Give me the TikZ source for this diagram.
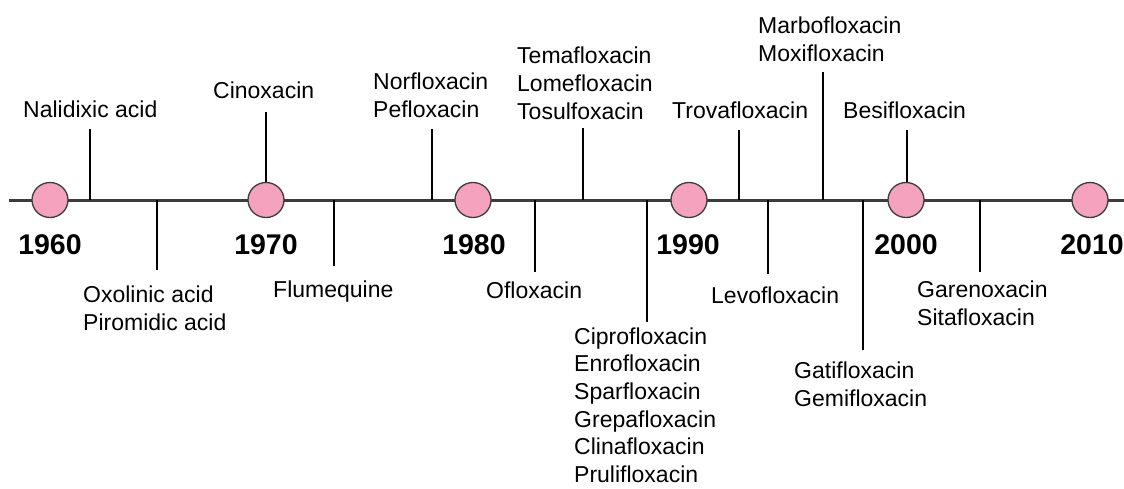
\documentclass[tikz,border=0pt]{standalone}
\usepackage{fontspec}
\setmainfont{Liberation Sans}
\usetikzlibrary{shapes.geometric}
\definecolor{pinkfill}{RGB}{245,162,190}
\definecolor{linegray}{RGB}{60,60,60}
\tikzset{
  yearball/.style={ellipse, draw=linegray, line width=1.3pt, fill=pinkfill, minimum width=36pt, minimum height=35pt, inner sep=0pt},
  yearlabel/.style={anchor=base, inner sep=0pt, font=\fontsize{28.5}{30}\selectfont\bfseries},
  druglabel/.style={anchor=north west, inner sep=0pt, align=left, font=\fontsize{23}{28}\selectfont},
  tickline/.style={line width=1.8pt, black},
  axisline/.style={line width=3pt, linegray}
}
\begin{document}
\begin{tikzpicture}[x=1pt,y=-1pt]
\useasboundingbox (0,0) rectangle (1124,488);
% axis
\coordinate (L) at (9,200);
\coordinate (R) at (1124,200);
\draw[axisline] (L) -- (R);
% tick bases and ends
\coordinate (a1) at (90,200);  \coordinate (e1) at (90,129);
\coordinate (a2) at (157,200); \coordinate (e2) at (157,270);
\coordinate (a3) at (266,200); \coordinate (e3) at (266,112);
\coordinate (a4) at (334,200); \coordinate (e4) at (334,266);
\coordinate (a5) at (432,200); \coordinate (e5) at (432,129);
\coordinate (a6) at (535,200); \coordinate (e6) at (535,272);
\coordinate (a7) at (583,200); \coordinate (e7) at (583,128);
\coordinate (a8) at (647,200); \coordinate (e8) at (647,322);
\coordinate (a9) at (739,200); \coordinate (e9) at (739,130);
\coordinate (a10) at (768,200); \coordinate (e10) at (768,274);
\coordinate (a11) at (823,200); \coordinate (e11) at (823,72);
\coordinate (a12) at (863,200); \coordinate (e12) at (863,350);
\coordinate (a13) at (907,200); \coordinate (e13) at (907,130);
\coordinate (a14) at (980,200); \coordinate (e14) at (980,272);
\foreach \i in {1,...,14} {\draw[tickline] (a\i) -- (e\i);}
% year balls
\node[yearball] (c1960) at (50,200) {};
\node[yearball] (c1970) at (266,200) {};
\node[yearball] (c1980) at (473,200) {};
\node[yearball] (c1990) at (689,200) {};
\node[yearball] (c2000) at (906,200) {};
\node[yearball] (c2010) at (1090,200) {};
% year labels
\node[yearlabel] (y1960) at (50,254) {1960};
\node[yearlabel] (y1970) at (266,254) {1970};
\node[yearlabel] (y1980) at (474,254) {1980};
\node[yearlabel] (y1990) at (688,254) {1990};
\node[yearlabel] (y2000) at (906,254) {2000};
\node[yearlabel] (y2010) at (1092,254) {2010};
% drug labels (top-left corner = first baseline - 16.8)
\node[druglabel] (nal) at (23,100.2) {Nalidixic acid};
\node[druglabel] (cin) at (213,81.2) {Cinoxacin};
\node[druglabel] (nor) at (373,72.2) {Norfloxacin\\Pefloxacin};
\node[druglabel] (tem) at (517,46.2) {Temafloxacin\\Lomefloxacin\\Tosulfoxacin};
\node[druglabel] (mar) at (758,16.2) {Marbofloxacin\\Moxifloxacin};
\node[druglabel] (tro) at (672,101.2) {Trovafloxacin};
\node[druglabel] (bes) at (843,101.2) {Besifloxacin};
\node[druglabel] (oxo) at (83,285.2) {Oxolinic acid\\Piromidic acid};
\node[druglabel] (flu) at (273,280.2) {Flumequine};
\node[druglabel] (ofl) at (486,281.2) {Ofloxacin};
\node[druglabel, font=\fontsize{23}{27.6}\selectfont] (cip) at (574,327.4) {Ciprofloxacin\\Enrofloxacin\\Sparfloxacin\\Grepafloxacin\\Clinafloxacin\\Prulifloxacin};
\node[druglabel] (lev) at (711,286.2) {Levofloxacin};
\node[druglabel] (gat) at (794,361.2) {Gatifloxacin\\Gemifloxacin};
\node[druglabel] (gar) at (917,280.2) {Garenoxacin\\Sitafloxacin};
\end{tikzpicture}
\end{document}
